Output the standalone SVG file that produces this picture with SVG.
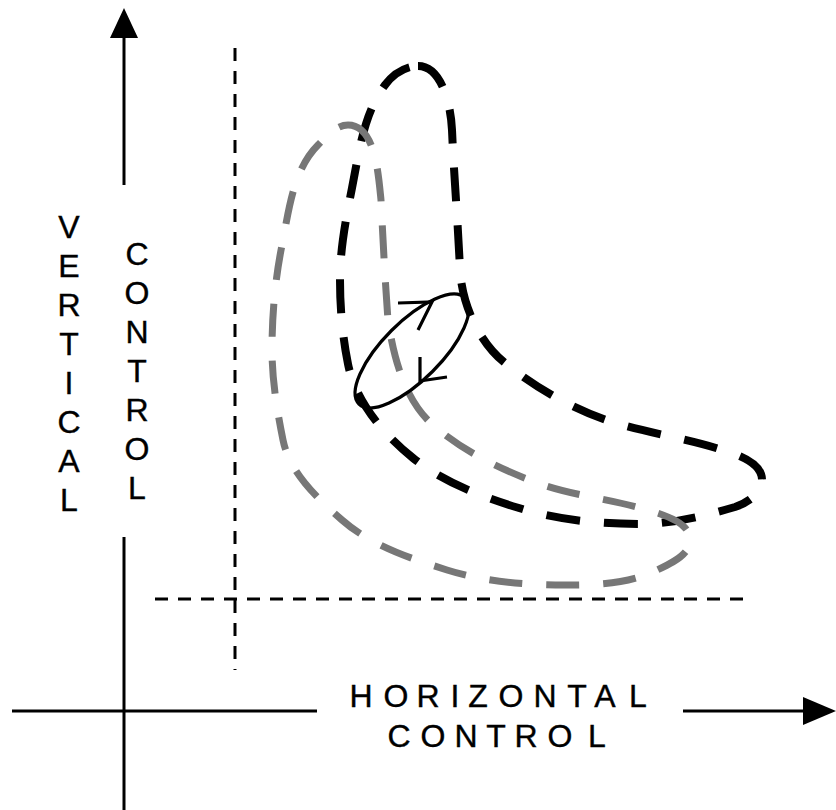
<svg xmlns="http://www.w3.org/2000/svg" width="836" height="810" viewBox="0 0 836 810">
<defs>
<style>
.axis{stroke:#000;stroke-width:3;fill:none}
.head{fill:#000;stroke:none}
.guide{stroke:#000;stroke-width:3;stroke-dasharray:13 10;fill:none}
.blk{stroke:#000;stroke-width:8;stroke-dasharray:34 24;fill:none}
.gry{stroke:#777;stroke-width:7;stroke-dasharray:33 24;fill:none}
.loop{stroke:#000;stroke-width:3.2;fill:none;stroke-linejoin:miter}
.lbl{font-family:"Liberation Sans",Arial,sans-serif;font-size:32px;fill:#000;stroke:#000;stroke-width:0.4;text-anchor:middle}
</style>
</defs>
<rect width="836" height="810" fill="#fff"/>
<g id="axes">
<line class="axis" x1="124" y1="36" x2="124" y2="185"/>
<line class="axis" x1="124" y1="537" x2="124" y2="810"/>
<line class="axis" x1="12" y1="711" x2="317" y2="711"/>
<line class="axis" x1="683" y1="711" x2="805" y2="711"/>
<polygon class="head" points="124,8 110,38 138,38"/>
<polygon class="head" points="836,711 803,697 803,725"/>
</g>
<g id="guides">
<line class="guide" x1="235" y1="48" x2="235" y2="670"/>
<line class="guide" x1="155" y1="599" x2="745" y2="599"/>
</g>
<g id="black-region">
<path class="blk" d="M418,66 C442,66 451,106 452,130 C454,177 458,223 460,270 C462,304 478.5,342 505,363 C535,387 569,407 606,420 C642,432 679.5,437 716,448 C734,453.5 762,461 762,480 C762,493 747.5,503 735,507 C704,516 672,524 640,524 C599,524 558,520 519,508 C481.6,496.7 443.4,482.2 413,458 C383.4,434.4 355.4,401.2 348,364 C342.5,336.6 340,308 340,280 C340,249 346,218.4 352,188 C359,152.7 363.4,113.8 385,85 C392.6,74.8 405.3,66 418,66 Z"/>
</g>
<g id="gray-region">
<path class="gry" d="M348,125 C375,125 378.3,173 381,200 C383,240 385,280 388,320 C393.6,357.6 404.5,400 433,425 C462.3,450.7 498.5,468.3 535,482 C570,495.2 608,498.5 644,509 C661.8,514.2 690,521.5 690,540 C690,555.6 669.1,564.3 655,571 C627.6,584.1 595.4,585 565,585 C525.3,585 484.8,581.9 447,570 C410,558.3 371.1,545.6 342,520 C317.2,498.2 289.5,472.3 283,440 C277.1,410.4 272,380.2 272,350 C272,314.8 275.1,279.5 282,245 C288.9,210.3 293,170 318,145 C326.5,136.5 336,125 348,125 Z"/>
</g>
<g id="cycle">
<ellipse class="loop" cx="412" cy="351" rx="75" ry="29" transform="rotate(-45 412 351)"/>
<polyline class="loop" points="398,303 432,302 418,330"/>
<polyline class="loop" points="420,357 420,381 447,377"/>
</g>
<g id="labels">
<text class="lbl" x="69 69 69 69 69 69 69 69" y="238 277 316 355 394 433 472 511">VERTICAL</text>
<text class="lbl" x="137 137 137 137 137 137 137" y="265 304 343 382 421 460 499">CONTROL</text>
<text class="lbl" x="361 396 428 455 478 511 545 577 605 638" y="707">HORIZONTAL</text>
<text class="lbl" x="399 433 466 496 526 560 597" y="747">CONTROL</text>
</g>
</svg>
